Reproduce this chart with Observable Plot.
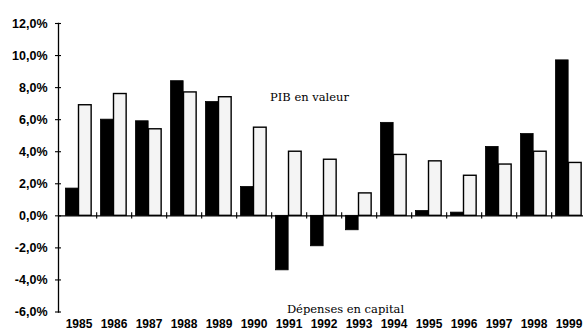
<!DOCTYPE html>
<html>
<head>
<meta charset="utf-8">
<script src="https://cdn.jsdelivr.net/npm/d3@7"></script>
<script src="https://cdn.jsdelivr.net/npm/@observablehq/plot@0.6"></script>
<style>
  html, body { margin: 0; padding: 0; background: #fff; overflow: hidden; }
  #chart svg { display: block; }
</style>
</head>
<body>
<div id="chart"></div>
<script>
// Années
const years = ["1985", "1986", "1987", "1988", "1989", "1990", "1991", "1992",
               "1993", "1994", "1995", "1996", "1997", "1998", "1999"];
// Croissance annuelle des dépenses en capital (%)
const depenses = [1.7, 6.0, 5.9, 8.4, 7.1, 1.8, -3.4, -1.9, -0.9, 5.8, 0.3, 0.2, 4.3, 5.1, 9.7];
// Croissance annuelle du PIB en valeur (%)
const pib = [6.9, 7.6, 5.4, 7.7, 7.4, 5.5, 4.0, 3.5, 1.4, 3.8, 3.4, 2.5, 3.2, 4.0, 3.3];
// Graduations de l'axe vertical
const yTicks = [-6, -4, -2, 0, 2, 4, 6, 8, 10, 12];
// Libellés des séries
const serieDepenses = "Dépenses en capital";
const seriePib = "PIB en valeur";

const rows = years.map((year, i) => ({year, depenses: depenses[i], pib: pib[i]}));

const fmt = d => d.toFixed(1).replace(".", ",") + "%";
const band = (583 + 5.3 - 58) / years.length;

const chart = Plot.plot({
  width: 583,
  height: 335,
  marginLeft: 58,
  marginRight: -5.3,
  marginTop: 23,
  marginBottom: 23.5,
  style: {
    fontFamily: "'Liberation Sans', Arial, sans-serif",
    fontWeight: "bold",
    fontSize: "12px",
    color: "#000",
    background: "#fff"
  },
  x: {domain: years, paddingInner: 0, paddingOuter: 0, label: null},
  y: {domain: [-6, 12], label: null},
  marks: [
    // PIB en valeur : barres claires à droite dans chaque année
    Plot.barY(rows, {
      x: "year", y: "pib",
      fill: "#f4f4f4", stroke: "#000", strokeWidth: 1.4,
      insetLeft: 17.5, insetRight: band - 30.5
    }),
    // Dépenses en capital : barres noires à gauche
    Plot.barY(rows, {
      x: "year", y: "depenses",
      fill: "#000", stroke: "#000", strokeWidth: 0.8,
      insetLeft: 4.5, insetRight: band - 17.5
    }),
    // Axe horizontal à zéro et ses graduations entre les années
    Plot.ruleY([0], {stroke: "#000", strokeWidth: 1.2}),
    Plot.ruleX(years, {x: d => d, y1: -0.2, y2: 0.2, dx: band / 2, stroke: "#000", strokeWidth: 1.1}),
    // Axe vertical
    Plot.frame({anchor: "left", stroke: "#000", strokeWidth: 1.3}),
    Plot.axisY({ticks: yTicks, tickSize: 6, dx: 3, tickFormat: () => "", stroke: "#000", strokeWidth: 1.1}),
    Plot.axisY({ticks: yTicks, tickSize: 0, tickPadding: 11, tickFormat: fmt, fontSize: 12.5, fontWeight: "bold", fill: "#000"}),
    // Années
    Plot.axisX({tickSize: 0, tickPadding: 7, fontSize: 12, fontWeight: "bold", fill: "#000"}),
    // Libellés des séries
    Plot.text([seriePib], {
      frameAnchor: "top-left", dx: 309 - 58, dy: 97 - 23,
      textAnchor: "middle", lineAnchor: "middle",
      fontFamily: "'DejaVu Serif', serif", fontWeight: "normal", fontSize: 11.5, fill: "#000"
    }),
    Plot.text([serieDepenses], {
      frameAnchor: "bottom-left", dx: 345 - 58, dy: -2.5,
      textAnchor: "middle", lineAnchor: "middle",
      fontFamily: "'DejaVu Serif', serif", fontWeight: "normal", fontSize: 11.5, fill: "#000"
    })
  ]
});

document.getElementById("chart").append(chart);
</script>
</body>
</html>
